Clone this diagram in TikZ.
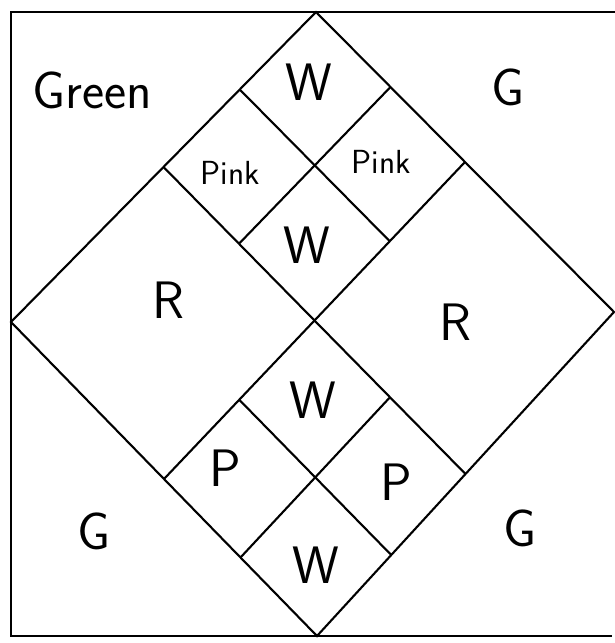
\documentclass[tikz,border=0pt]{standalone}
\usepackage{tikz}
\usetikzlibrary{calc}
\usepackage{xcolor}

\begin{document}
\begin{tikzpicture}[line width=1.2pt,
  patch/.style={font=\sffamily\fontsize{30}{34}\selectfont,inner sep=0pt},
  small/.style={font=\sffamily\fontsize{19}{22}\selectfont,inner sep=0pt}]
\useasboundingbox (0,0) rectangle (12.3,12.86);
\draw (12.3,12.62) -- (0.22,12.62) -- (0.22,0.14) -- (12.24,0.14);
\coordinate (T) at (6.32,12.62);
\coordinate (L) at (0.22,6.42);
\coordinate (B) at (6.34,0.14);
\coordinate (R) at (12.28,6.62);
\coordinate (tl) at ($(T)!0.5!(L)$);
\coordinate (tr) at ($(T)!0.5!(R)$);
\coordinate (bl) at ($(B)!0.5!(L)$);
\coordinate (br) at ($(B)!0.5!(R)$);
\coordinate (C) at ($(tl)!0.5!(br)$);
\draw (T) -- (R) -- (B) -- (L) -- cycle;
\draw (tl) -- (br);
\draw (tr) -- (bl);
\draw ($(T)!0.5!(tl)$) -- ($(tr)!0.5!(C)$);
\draw ($(T)!0.5!(tr)$) -- ($(tl)!0.5!(C)$);
\draw ($(C)!0.5!(bl)$) -- ($(br)!0.5!(B)$);
\draw ($(C)!0.5!(br)$) -- ($(bl)!0.5!(B)$);
\node[patch] (green) at (1.84,11.06) {Green};
\node[patch] (wtop) at (6.18,11.22) {W};
\node[patch] (gtr) at (10.16,11.12) {G};
\node[small] (pinkl) at (4.6,9.4) {Pink};
\node[small] (pinkr) at (7.62,9.62) {Pink};
\node[patch] (wmid) at (6.14,7.96) {W};
\node[patch] (rl) at (3.36,6.86) {R};
\node[patch] (rr) at (9.1,6.42) {R};
\node[patch] (wlow) at (6.26,4.86) {W};
\node[patch] (pl) at (4.5,3.5) {P};
\node[patch] (pr) at (7.92,3.22) {P};
\node[patch] (wbot) at (6.32,1.56) {W};
\node[patch] (gbl) at (1.88,2.24) {G};
\node[patch] (gbr) at (10.4,2.3) {G};
\end{tikzpicture}
\end{document}
